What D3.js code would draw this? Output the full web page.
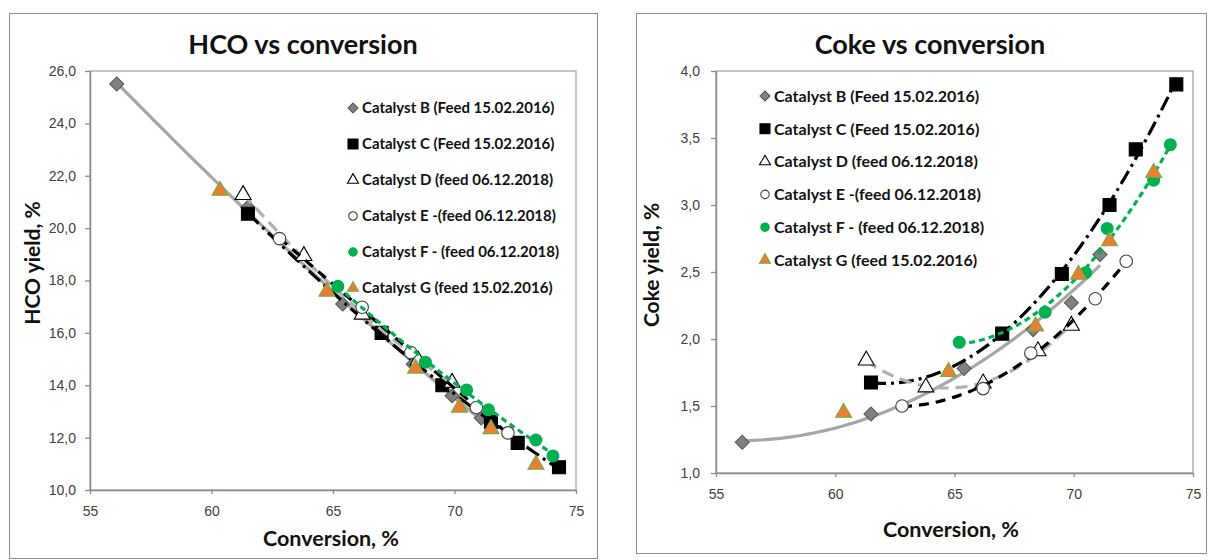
<!DOCTYPE html>
<html>
<head>
<meta charset="utf-8">
<script src="https://cdn.jsdelivr.net/npm/d3@7"></script>
<style>
  body { margin: 0; background: #fff; }
  svg { font-family: Lato, "Open Sans", "Liberation Sans", sans-serif; }
</style>
</head>
<body>
<script>
// ---- data ----
var catalysts = [
  "Catalyst B (Feed 15.02.2016)",
  "Catalyst C (Feed 15.02.2016)",
  "Catalyst D (feed 06.12.2018)",
  "Catalyst E -(feed 06.12.2018)",
  "Catalyst F - (feed 06.12.2018)",
  "Catalyst G (feed 15.02.2016)"
];

var convB = [56.1, 61.5, 65.4, 68.3, 69.9, 71.1];
var hcoB  = [25.5, 20.8, 17.1, 14.8, 13.6, 12.75];
var cokeB = [1.23, 1.44, 1.78, 2.07, 2.27, 2.63];

var convC = [61.5, 67.0, 69.5, 71.5, 72.6, 74.3];
var hcoC  = [20.55, 16.0, 14.0, 12.6, 11.8, 10.87];
var cokeC = [1.675, 2.04, 2.485, 3.0, 3.415, 3.9];

var convD = [61.3, 63.8, 66.2, 68.5, 69.9];
var hcoD  = [21.27, 18.94, 16.7, 14.95, 14.1];
var cokeD = [1.84, 1.64, 1.67, 1.91, 2.1];

var convE = [62.8, 66.2, 68.2, 70.9, 72.2];
var hcoE  = [19.6, 16.98, 15.25, 13.15, 12.18];
var cokeE = [1.5, 1.63, 1.895, 2.3, 2.58];

var convF = [65.2, 68.8, 70.5, 71.4, 73.35, 74.05];
var hcoF  = [17.78, 14.88, 13.82, 13.06, 11.91, 11.3];
var cokeF = [1.975, 2.2, 2.495, 2.825, 3.185, 3.45];

var convG = [60.35, 64.75, 68.4, 70.2, 71.5, 73.35];
var hcoG  = [21.43, 17.58, 14.64, 13.15, 12.33, 10.97];
var cokeG = [1.45, 1.755, 2.095, 2.48, 2.73, 3.24];

var xTicks = [55, 60, 65, 70, 75];
var hcoTicks = [10, 12, 14, 16, 18, 20, 22, 24, 26];
var cokeTicks = [1.0, 1.5, 2.0, 2.5, 3.0, 3.5, 4.0];

// ---- styles per catalyst ----
var styles = [
  {shape: "diamond",  fill: "#808080", stroke: "#595959", line: "#a6a6a6", dash: null},
  {shape: "square",   fill: "#000000", stroke: "#000000", line: "#000000", dash: "15,5,3,5"},
  {shape: "triangle", fill: "#ffffff", stroke: "#000000", line: "#b0b0b0", dash: "12,7"},
  {shape: "circle",   fill: "#ffffff", stroke: "#404040", line: "#000000", dash: "10,7"},
  {shape: "dot",      fill: "#00b050", stroke: "none",    line: "#00b050", dash: "6,4"},
  {shape: "triangle", fill: "#ed7d31", stroke: "#70ad47", line: null,      dash: null}
];

var series = [
  {conv: convB, hco: hcoB, coke: cokeB},
  {conv: convC, hco: hcoC, coke: cokeC},
  {conv: convD, hco: hcoD, coke: cokeD},
  {conv: convE, hco: hcoE, coke: cokeE},
  {conv: convF, hco: hcoF, coke: cokeF},
  {conv: convG, hco: hcoG, coke: cokeG}
];

var panels = [
  {key: "hco", title: "HCO vs conversion", yTitle: "HCO yield, %", ticks: hcoTicks, domain: [10, 26],
   box: [9, 13, 597, 558], left: 90, right: 576, top: 71, bottom: 490, yPad: 9,
   titleX: 303, titleY: 54, xtX: 331, xtY: 546, ytX: 33, ytY: 263,
   legX: 353, legY: 108, legStep: 36, legFont: 15},
  {key: "coke", title: "Coke vs conversion", yTitle: "Coke yield, %", ticks: cokeTicks, domain: [1, 4],
   box: [636, 13, 1206, 553], left: 716, right: 1193, top: 71, bottom: 473, yPad: 11,
   titleX: 930, titleY: 54, xtX: 951, xtY: 537, ytX: 652, ytY: 265,
   legX: 765, legY: 96, legStep: 32.8, legFont: 16}
];

var svg = d3.select("body").append("svg")
  .attr("width", 1209)
  .attr("height", 560);

// quadratic least squares, like the excel trendline
function polyFit(xs, ys) {
  var mx = d3.mean(xs);
  var S = [[0,0,0],[0,0,0],[0,0,0]], b = [0,0,0];
  xs.forEach(function(xv, i){
    var t = xv - mx, p = [1, t, t*t];
    for (var r = 0; r < 3; r++) {
      b[r] += p[r] * ys[i];
      for (var c = 0; c < 3; c++) S[r][c] += p[r] * p[c];
    }
  });
  // gauss elimination
  for (var k = 0; k < 3; k++) {
    for (var r = k + 1; r < 3; r++) {
      var f = S[r][k] / S[k][k];
      for (var c = k; c < 3; c++) S[r][c] -= f * S[k][c];
      b[r] -= f * b[k];
    }
  }
  var a = [0,0,0];
  for (var r = 2; r >= 0; r--) {
    var s = b[r];
    for (var c = r + 1; c < 3; c++) s -= S[r][c] * a[c];
    a[r] = s / S[r][r];
  }
  return function(xv){ var t = xv - mx; return a[0] + a[1]*t + a[2]*t*t; };
}

function marker(g, shape, size, st) {
  var path;
  if (shape === "diamond") {
    path = g.append("path").attr("d", d3.symbol(d3.symbolSquare, size * size / 2)()).attr("transform", "rotate(45)");
  } else if (shape === "square") {
    path = g.append("path").attr("d", d3.symbol(d3.symbolSquare, size * size)());
  } else if (shape === "triangle") {
    path = g.append("path").attr("d", d3.symbol(d3.symbolTriangle, size * size * Math.sqrt(3) / 4)());
  } else {
    path = g.append("path").attr("d", d3.symbol(d3.symbolCircle, Math.PI * size * size / 4)());
  }
  path.attr("fill", st.fill).attr("stroke", st.stroke).attr("stroke-width", 1.1);
}

var markerSize = {diamond: 14, square: 13, triangle: 16, circle: 12.5, dot: 13};
var legendSize = {diamond: 10, square: 10, triangle: 11, circle: 8.5, dot: 9.5};

panels.forEach(function(p){
  var g = svg.append("g");

  g.append("rect")
    .attr("x", p.box[0] + 0.5).attr("y", p.box[1] + 0.5)
    .attr("width", p.box[2] - p.box[0]).attr("height", p.box[3] - p.box[1])
    .attr("fill", "#fff").attr("stroke", "#8c8c8c");

  var x = d3.scaleLinear().domain([55, 75]).range([p.left, p.right]);
  var y = d3.scaleLinear().domain(p.domain).range([p.bottom, p.top]);

  g.append("rect")
    .attr("x", p.left).attr("y", p.top)
    .attr("width", p.right - p.left).attr("height", p.bottom - p.top)
    .attr("fill", "none").attr("stroke", "#a6a6a6").attr("stroke-width", 1.3);

  var xAxis = g.append("g")
    .attr("transform", "translate(0," + p.bottom + ")")
    .call(d3.axisBottom(x).tickValues(xTicks).tickSize(4).tickPadding(12).tickSizeOuter(0));
  var yAxis = g.append("g")
    .attr("transform", "translate(" + p.left + ",0)")
    .call(d3.axisLeft(y).tickValues(p.ticks).tickSize(5).tickPadding(p.yPad).tickSizeOuter(0)
      .tickFormat(function(d){ return d.toFixed(1).replace(".", ","); }));

  [xAxis, yAxis].forEach(function(a){
    a.select(".domain").attr("stroke", "#8c8c8c").attr("stroke-width", 1.5);
    a.selectAll(".tick line").attr("stroke", "#8c8c8c").attr("stroke-width", 1.3);
    a.selectAll(".tick text").attr("fill", "#404040").style("font-size", "14px");
  });

  // titles
  g.append("text").attr("x", p.titleX).attr("y", p.titleY).attr("text-anchor", "middle")
    .style("font-size", "27px").style("font-weight", "bold").attr("fill", "#111").text(p.title);
  g.append("text").attr("x", p.xtX).attr("y", p.xtY).attr("text-anchor", "middle")
    .style("font-size", "21.5px").style("font-weight", "bold").attr("fill", "#111").text("Conversion, %");
  g.append("text").attr("transform", "translate(" + p.ytX + "," + p.ytY + ") rotate(-90)")
    .attr("dy", "0.35em").attr("text-anchor", "middle")
    .style("font-size", "21px").style("font-weight", "bold").attr("fill", "#111").text(p.yTitle);

  // series: trendline then markers
  series.forEach(function(s, i){
    var st = styles[i];
    var vals = s[p.key];
    var pts = s.conv.map(function(c, j){ return [c, vals[j]]; });

    if (st.line) {
      var fit = polyFit(s.conv, vals);
      var x0 = d3.min(s.conv), x1 = d3.max(s.conv);
      var curve = d3.range(0, 61).map(function(k){ var c = x0 + (x1 - x0) * k / 60; return [c, fit(c)]; });
      g.append("path")
        .datum(curve)
        .attr("d", d3.line().x(function(d){ return x(d[0]); }).y(function(d){ return y(d[1]); }))
        .attr("fill", "none")
        .attr("stroke", st.line)
        .attr("stroke-width", 3.2)
        .attr("stroke-dasharray", st.dash);
    }

    pts.forEach(function(d){
      var m = g.append("g").attr("transform", "translate(" + x(d[0]) + "," + y(d[1]) + ")");
      marker(m, st.shape, markerSize[st.shape], st);
    });
  });

  // legend
  catalysts.forEach(function(name, i){
    var st = styles[i];
    var ly = p.legY + i * p.legStep;
    var m = g.append("g").attr("transform", "translate(" + p.legX + "," + ly + ")");
    marker(m, st.shape, legendSize[st.shape], st);
    g.append("text").attr("x", p.legX + 9).attr("y", ly).attr("dy", "0.36em")
      .style("font-size", p.legFont + "px").style("font-weight", "bold").attr("fill", "#111").text(name);
  });
});
</script>
</body>
</html>
